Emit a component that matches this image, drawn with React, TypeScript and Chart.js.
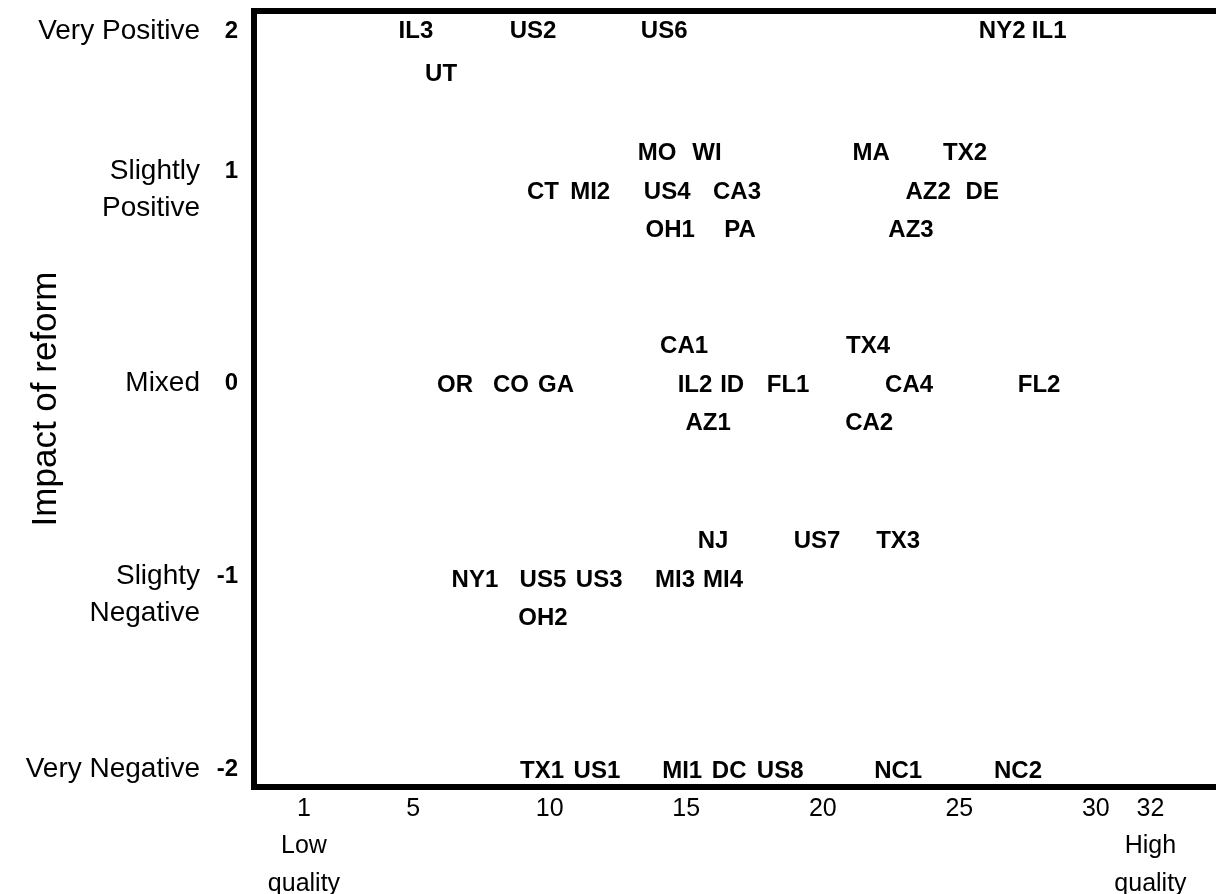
import React, { useEffect, useRef } from 'react';
import { Chart, registerables } from 'chart.js';

Chart.register(...registerables);

// Study labels, their quality score (x) and impact position (y)
const LABELS = [
  'IL3', 'US2', 'US6', 'NY2', 'IL1',
  'UT',
  'MO', 'WI', 'MA', 'TX2',
  'CT', 'MI2', 'US4', 'CA3', 'AZ2', 'DE',
  'OH1', 'PA', 'AZ3',
  'CA1', 'TX4',
  'OR', 'CO', 'GA', 'IL2', 'ID', 'FL1', 'CA4', 'FL2',
  'AZ1', 'CA2',
  'NJ', 'US7', 'TX3',
  'NY1', 'US5', 'US3', 'MI3', 'MI4',
  'OH2',
  'TX1', 'US1', 'MI1', 'DC', 'US8', 'NC1', 'NC2',
];

const QUALITY = [
  5.1, 9.39, 14.19, 26.57, 28.29,
  6.02,
  13.93, 15.76, 21.77, 25.21,
  9.75, 11.48, 14.3, 16.86, 23.86, 25.84,
  14.41, 16.97, 23.23,
  14.92, 21.66,
  6.53, 8.58, 10.23, 15.32, 16.68, 18.73, 23.16, 27.92,
  15.8, 21.7,
  15.98, 19.79, 22.76,
  7.26, 9.75, 11.81, 14.59, 16.35,
  9.75,
  9.72, 11.73, 14.85, 16.57, 18.44, 22.76, 27.15,
];

const IMPACT = [
  1.83, 1.83, 1.83, 1.83, 1.83,
  1.61,
  1.2, 1.2, 1.2, 1.2,
  1.0, 1.0, 1.0, 1.0, 1.0, 1.0,
  0.8, 0.8, 0.8,
  0.2, 0.2,
  0, 0, 0, 0, 0, 0, 0, 0,
  -0.2, -0.2,
  -0.81, -0.81, -0.81,
  -1.01, -1.01, -1.01, -1.01, -1.01,
  -1.21,
  -2.0, -2.0, -2.0, -2.0, -2.0, -2.0, -2.0,
];

const X_TICKS = [1, 5, 10, 15, 20, 25, 30, 32];
const X_TICK_LABELS: (string | string[])[] = [
  ['1', 'Low', 'quality'], '5', '10', '15', '20', '25', '30', ['32', 'High', 'quality'],
];

const Y_TICKS = [-2, -1, 0, 1, 1.82];
const Y_TICK_NUMBERS: (string | string[])[] = ['-2', '-1', '0', ['1', ''], '2'];
const Y_TICK_NAMES: (string | string[])[] = [
  'Very Negative', ['', 'Slighty', 'Negative'], 'Mixed', ['Slightly', 'Positive'], 'Very Positive',
];

const FONT = '"Liberation Sans", Arial, Helvetica, sans-serif';

const textLabelPlugin = {
  id: 'textLabels',
  afterDatasetsDraw(chart: any) {
    const ctx = chart.ctx;
    const meta = chart.getDatasetMeta(0);
    ctx.save();
    ctx.font = `bold 24px ${FONT}`;
    ctx.fillStyle = '#000';
    ctx.textAlign = 'center';
    ctx.textBaseline = 'middle';
    meta.data.forEach((el: any, i: number) => {
      ctx.fillText(LABELS[i], el.x, el.y + 2);
    });
    ctx.restore();
  },
};

export default function App() {
  const ref = useRef<HTMLCanvasElement>(null);

  useEffect(() => {
    document.body.style.margin = '0';
    document.body.style.overflow = 'hidden';
    const yTicks = (s: any) => {
      s.ticks = Y_TICKS.map((v) => ({ value: v }));
    };
    const noPad = (s: any) => {
      s.paddingTop = 0;
      s.paddingBottom = 0;
      s.paddingLeft = 0;
      s.paddingRight = 0;
    };
    const chart = new Chart(ref.current as HTMLCanvasElement, {
      type: 'scatter',
      data: {
        datasets: [
          {
            data: QUALITY.map((x, i) => ({ x, y: IMPACT[i] })),
            pointRadius: 0,
            pointHoverRadius: 0,
            xAxisID: 'x',
            yAxisID: 'y',
          },
        ],
      },
      options: {
        animation: false,
        responsive: false,
        events: [],
        layout: { padding: { top: 11, left: 0, right: 0, bottom: 0 } },
        plugins: { legend: { display: false }, tooltip: { enabled: false } },
        scales: {
          x: {
            type: 'linear',
            position: 'bottom',
            min: -0.83,
            max: 34.4,
            grid: { display: false, drawTicks: false },
            border: { display: true, width: 6, color: '#000' },
            afterBuildTicks: (s: any) => {
              s.ticks = X_TICKS.map((v) => ({ value: v }));
            },
            afterFit: (s: any) => {
              s.height = 107;
              noPad(s);
            },
            ticks: {
              autoSkip: false,
              maxRotation: 0,
              padding: 3,
              color: '#000',
              font: { family: FONT, size: 25, lineHeight: 1.5 },
              callback: (_v: any, i: number) => X_TICK_LABELS[i],
            },
          },
          x2: {
            type: 'linear',
            position: 'top',
            display: true,
            min: 0,
            max: 1,
            grid: { display: false, drawTicks: false },
            border: { display: true, width: 6, color: '#000' },
            ticks: { display: false },
            afterFit: (s: any) => {
              s.height = 0;
              noPad(s);
            },
          },
          y: {
            type: 'linear',
            position: 'left',
            weight: 0,
            min: -2.093,
            max: 1.927,
            grid: { display: false, drawTicks: false },
            border: { display: true, width: 6, color: '#000' },
            afterBuildTicks: yTicks,
            afterFit: (s: any) => {
              s.width = 44;
              noPad(s);
            },
            ticks: {
              autoSkip: false,
              padding: 16,
              color: '#000',
              font: { family: FONT, size: 24, weight: 'bold', lineHeight: 1.54 },
              callback: (_v: any, i: number) => Y_TICK_NUMBERS[i],
            },
          },
          yName: {
            type: 'linear',
            position: 'left',
            weight: 1,
            min: -2.093,
            max: 1.927,
            grid: { display: false, drawTicks: false },
            border: { display: false },
            afterBuildTicks: yTicks,
            afterFit: (s: any) => {
              s.width = 210;
              noPad(s);
            },
            ticks: {
              autoSkip: false,
              padding: 10,
              color: '#000',
              font: { family: FONT, size: 28, lineHeight: 1.32 },
              callback: (_v: any, i: number) => Y_TICK_NAMES[i],
            },
            title: {
              display: true,
              text: 'Impact of reform',
              color: '#000',
              font: { family: FONT, size: 35 },
              padding: { top: 25, bottom: 0 },
            },
          },
        },
      } as any,
      plugins: [textLabelPlugin],
    });
    return () => chart.destroy();
  }, []);

  return (
    <div style={{ width: 1216, height: 894 }}>
      <canvas ref={ref} width={1216} height={894} style={{ display: 'block' }} />
    </div>
  );
}
